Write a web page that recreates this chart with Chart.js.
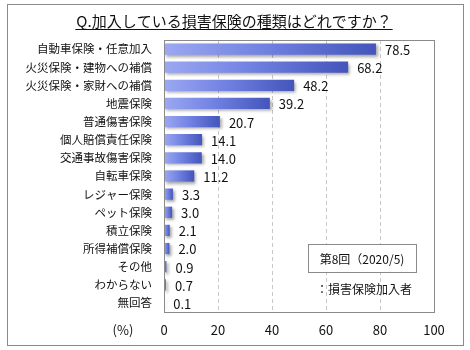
<!DOCTYPE html>
<html>
<head>
<meta charset="utf-8">
<script src="https://cdn.jsdelivr.net/npm/chart.js@4"></script>
<style>
  html, body { margin:0; padding:0; background:#fff; }
  #wrap { width:470px; height:350px; }
</style>
</head>
<body>
<div id="wrap"><canvas id="c" width="470" height="350"></canvas></div>
<script>
// data
const categories = ['自動車保険・任意加入','火災保険・建物への補償','火災保険・家財への補償','地震保険','普通傷害保険',
  '個人賠償責任保険','交通事故傷害保険','自転車保険','レジャー保険','ペット保険','積立保険','所得補償保険',
  'その他','わからない','無回答'];
const values = [78.5, 68.2, 48.2, 39.2, 20.7, 14.1, 14.0, 11.2, 3.3, 3.0, 2.1, 2.0, 0.9, 0.7, 0.1];
const xTicks = [0, 20, 40, 60, 80, 100];
const titleText = 'Q.加入している損害保険の種類はどれですか？';
const legendText = '第8回（2020/5)';
const noteText = '：損害保険加入者';
const unitText = '(%)';

const FONT = '"Noto Sans CJK JP", "Noto Sans", sans-serif';

// per-bar horizontal gradient
function barFill(ctx) {
  const chart = ctx.chart;
  const area = chart.chartArea;
  if (!area || !chart.scales.x) return '#6070d8';
  const x0 = chart.scales.x.getPixelForValue(0);
  const x1 = chart.scales.x.getPixelForValue(values[ctx.dataIndex]);
  const g = chart.ctx.createLinearGradient(x0, 0, Math.max(x1, x0 + 1), 0);
  g.addColorStop(0, '#9ca8f2');
  g.addColorStop(0.5, '#6e7fe0');
  g.addColorStop(1, '#4455bb');
  return g;
}

const decor = {
  id: 'decor',
  beforeDraw(chart) {
    const c = chart.ctx;
    c.save();
    c.fillStyle = '#fff';
    c.fillRect(0, 0, chart.width, chart.height);
    // outer frame
    c.strokeStyle = '#8a8a8a';
    c.lineWidth = 1;
    c.strokeRect(7.5, 4.5, 456, 341);
    // title
    c.fillStyle = '#111';
    c.font = '15px ' + FONT;
    c.textAlign = 'center';
    c.textBaseline = 'middle';
    c.fillText(titleText, 234, 21);
    const w = c.measureText(titleText).width;
    c.beginPath();
    c.moveTo(234 - w / 2 - 1, 29.5);
    c.lineTo(234 + w / 2 + 1, 29.5);
    c.strokeStyle = '#111';
    c.stroke();
    c.restore();
  },
  beforeDatasetsDraw(chart) {
    const c = chart.ctx;
    const a = chart.chartArea;
    const xs = chart.scales.x;
    // dashed gridlines
    c.save();
    c.strokeStyle = '#c8c8c8';
    c.lineWidth = 1;
    c.setLineDash([4, 3]);
    xTicks.slice(1, -1).forEach(v => {
      const px = Math.round(xs.getPixelForValue(v)) + 0.5;
      c.beginPath();
      c.moveTo(px, a.top);
      c.lineTo(px, a.bottom);
      c.stroke();
    });
    c.restore();
    c.save();
    c.shadowColor = 'rgba(0,0,0,0.35)';
    c.shadowOffsetX = 2;
    c.shadowOffsetY = 2;
    c.shadowBlur = 3;
  },
  afterDatasetsDraw(chart) {
    const c = chart.ctx;
    c.restore();
    const a = chart.chartArea;
    c.save();
    // plot border
    c.strokeStyle = '#8a8a8a';
    c.lineWidth = 1;
    c.strokeRect(Math.round(a.left) + 0.5, Math.round(a.top) + 0.5,
      Math.round(a.right - a.left), Math.round(a.bottom - a.top));
    // value labels
    c.fillStyle = '#111';
    c.font = '13px ' + FONT;
    c.textAlign = 'left';
    c.textBaseline = 'middle';
    chart.getDatasetMeta(0).data.forEach((bar, i) => {
      c.fillText(values[i].toFixed(1), bar.x + 9, bar.y + 1);
    });
    // legend box
    c.font = '12px ' + FONT;
    c.fillStyle = '#fff';
    c.fillRect(308.5, 244.5, 108, 28);
    c.strokeStyle = '#8a8a8a';
    c.strokeRect(308.5, 244.5, 108, 28);
    c.fillStyle = '#111';
    c.textAlign = 'center';
    c.fillText(legendText, 362, 259);
    c.textAlign = 'left';
    c.fillText(noteText, 316, 289);
    // unit
    c.font = '13px ' + FONT;
    c.textAlign = 'center';
    c.fillText(unitText, 123, 330);
    c.restore();
  }
};

new Chart(document.getElementById('c'), {
  type: 'bar',
  data: {
    labels: categories,
    datasets: [{
      data: values,
      backgroundColor: barFill,
      borderWidth: 0,
      categoryPercentage: 1,
      barPercentage: 0.62
    }]
  },
  options: {
    indexAxis: 'y',
    responsive: false,
    animation: false,
    devicePixelRatio: 1,
    layout: { padding: { left: 0, right: 36, top: 40, bottom: 0 } },
    plugins: { legend: { display: false }, tooltip: { enabled: false } },
    scales: {
      x: {
        min: 0, max: 100,
        afterBuildTicks: s => { s.ticks = xTicks.map(v => ({ value: v })); },
        afterFit: s => { s.height = 38; },
        grid: { display: false, drawTicks: false },
        border: { display: false },
        ticks: { color: '#111', font: { size: 13, family: FONT }, padding: 10 }
      },
      y: {
        afterFit: s => { s.width = 164; },
        grid: { display: false, drawTicks: false },
        border: { display: false },
        ticks: { color: '#111', font: { size: 11.5, family: FONT }, padding: 12, autoSkip: false }
      }
    }
  },
  plugins: [decor]
});
</script>
</body>
</html>
